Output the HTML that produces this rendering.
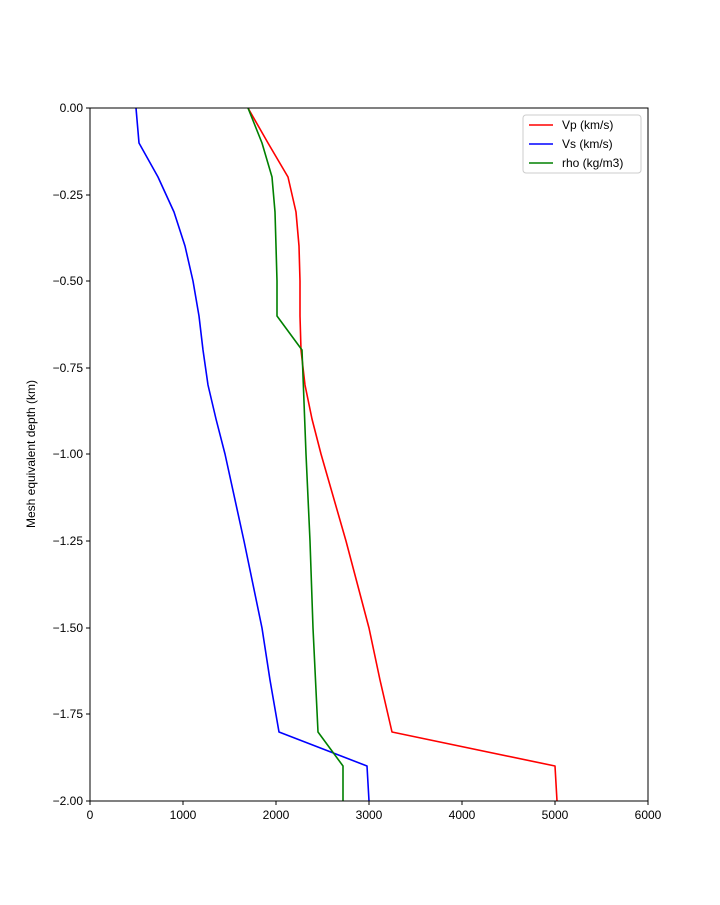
<!DOCTYPE html>
<html><head><style>body{margin:0;background:#fff}</style></head><body>
<svg width="720" height="900" xmlns="http://www.w3.org/2000/svg" font-family="'Liberation Sans','DejaVu Sans',sans-serif" font-size="12">
<rect width="720" height="900" fill="#fff"/>
<g fill="none" stroke-width="1.6" stroke-linejoin="round">
<polyline stroke="#ff0000" points="248,108 268,143 288,177 296,212 299,246 300,281 300,316 301,350 305,385 312,419 321,454 346,541 369,628 380,680 392,732 555,766 557,801"/>
<polyline stroke="#0000ff" points="136,108 139,143 158,177 174,212 185,246 193,281 199,316 203,350 208,385 216,419 225,454 244,541 262,628 270,680 279,732 367,766 369,801"/>
<polyline stroke="#008000" points="248,108 262,143 272,177 275,212 276,246 277,281 277,316 302,350 306,454 310,541 313,628 318,732 343,766 343,801"/>
</g>
<rect x="90" y="108" width="558" height="693" fill="none" stroke="#000" stroke-width="1"/>
<g stroke="#000">
<line x1="90" y1="801" x2="90" y2="805"/><line x1="183" y1="801" x2="183" y2="805"/><line x1="276" y1="801" x2="276" y2="805"/><line x1="369" y1="801" x2="369" y2="805"/><line x1="462" y1="801" x2="462" y2="805"/><line x1="555" y1="801" x2="555" y2="805"/><line x1="648" y1="801" x2="648" y2="805"/>
<line x1="86" y1="108" x2="90" y2="108"/><line x1="86" y1="195" x2="90" y2="195"/><line x1="86" y1="281" x2="90" y2="281"/><line x1="86" y1="368" x2="90" y2="368"/><line x1="86" y1="454" x2="90" y2="454"/><line x1="86" y1="541" x2="90" y2="541"/><line x1="86" y1="628" x2="90" y2="628"/><line x1="86" y1="714" x2="90" y2="714"/><line x1="86" y1="801" x2="90" y2="801"/>
</g>
<g text-anchor="middle">
<text x="90" y="819">0</text><text x="183" y="819">1000</text><text x="276" y="819">2000</text><text x="369" y="819">3000</text><text x="462" y="819">4000</text><text x="555" y="819">5000</text><text x="648" y="819">6000</text>
</g>
<g text-anchor="end">
<text x="83" y="112">0.00</text><text x="83" y="199">−0.25</text><text x="83" y="285">−0.50</text><text x="83" y="372">−0.75</text><text x="83" y="458">−1.00</text><text x="83" y="545">−1.25</text><text x="83" y="632">−1.50</text><text x="83" y="718">−1.75</text><text x="83" y="805">−2.00</text>
</g>
<text transform="translate(35,454) rotate(-90)" text-anchor="middle">Mesh equivalent depth (km)</text>
<rect x="523" y="115" width="118" height="58" fill="#fff" stroke="#ccc" rx="3"/>
<line x1="529" y1="125" x2="553" y2="125" stroke="#ff0000" stroke-width="1.6"/><text x="562" y="129">Vp (km/s)</text>
<line x1="529" y1="144" x2="553" y2="144" stroke="#0000ff" stroke-width="1.6"/><text x="562" y="148">Vs (km/s)</text>
<line x1="529" y1="163" x2="553" y2="163" stroke="#008000" stroke-width="1.6"/><text x="562" y="167">rho (kg/m3)</text>
</svg>
</body></html>
